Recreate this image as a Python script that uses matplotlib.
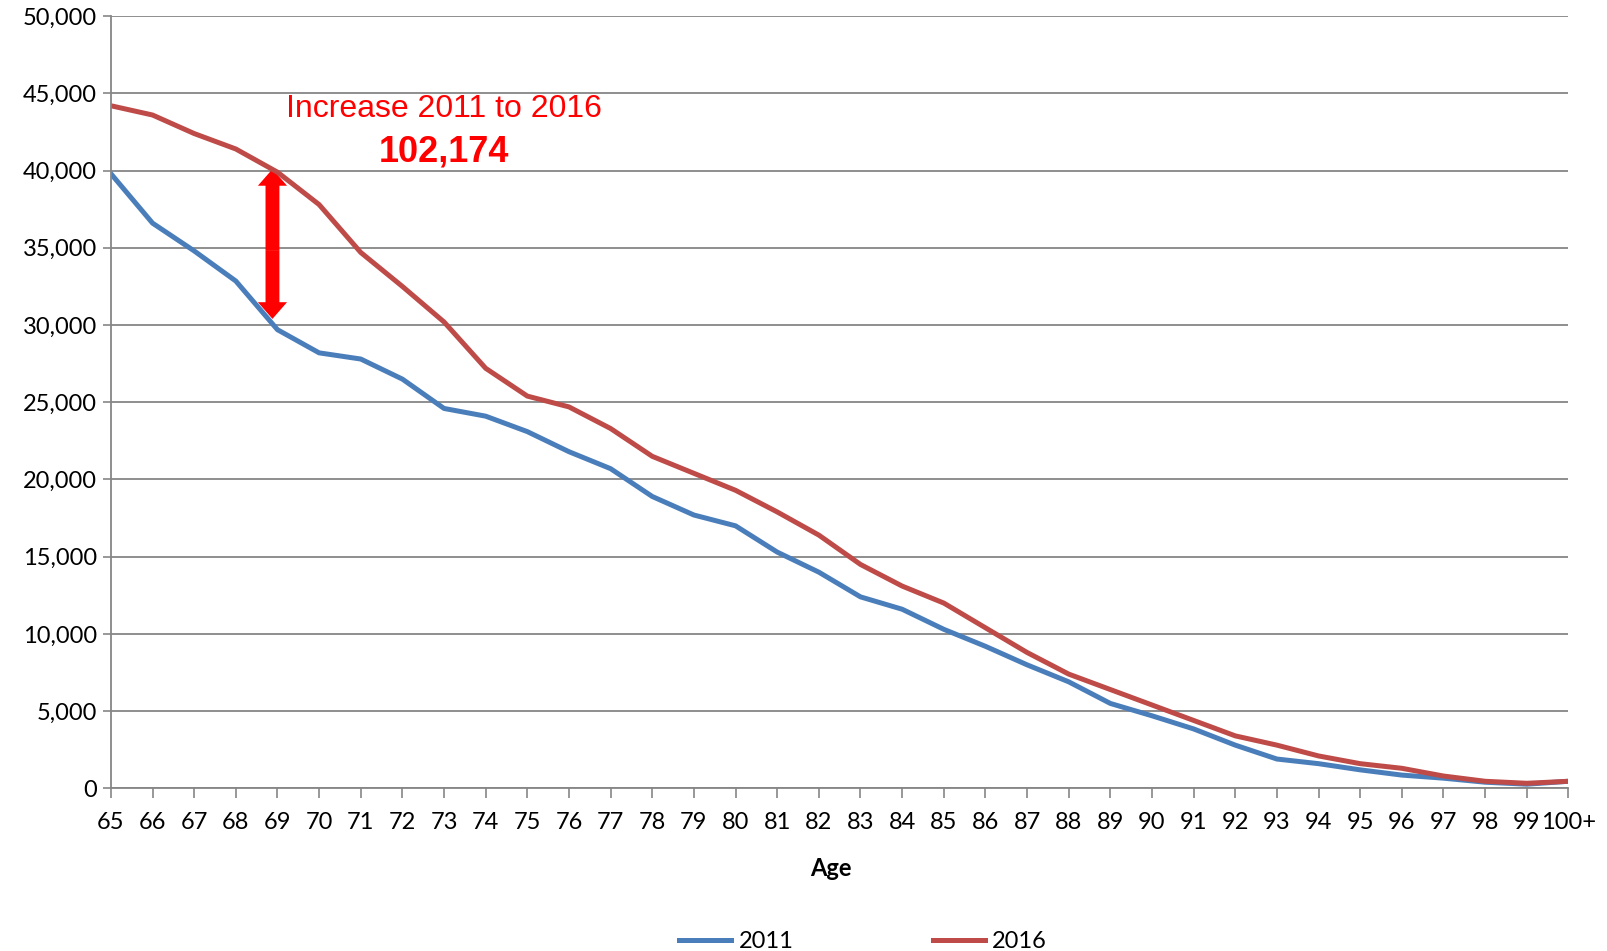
import matplotlib.pyplot as plt
from matplotlib.patches import FancyArrowPatch
import numpy as np

plt.rcParams['font.family'] = ['Lato', 'DejaVu Sans']

ages = [str(a) for a in range(65, 100)] + ['100+']
pop_2011 = [39800, 36600, 34800, 32850, 29700, 28200, 27800, 26500, 24600, 24100,
            23100, 21800, 20700, 18900, 17700, 17000, 15300, 14000, 12400, 11600,
            10300, 9200, 8000, 6900, 5500, 4700, 3850, 2800, 1900, 1600,
            1200, 860, 660, 400, 270, 460]
pop_2016 = [44200, 43600, 42400, 41400, 39900, 37800, 34700, 32500, 30200, 27200,
            25400, 24700, 23300, 21500, 20400, 19300, 17900, 16400, 14500, 13100,
            12000, 10400, 8800, 7400, 6400, 5400, 4400, 3400, 2800, 2100,
            1600, 1300, 800, 460, 330, 460]
increase_label = '102,174'

fig = plt.figure(figsize=(16.07, 9.51), dpi=100)
ax = fig.add_axes([0.069, 0.171, 0.907, 0.812])

x = np.arange(len(ages))
ax.plot(x, pop_2011, color='#4A7EBB', lw=3.6, label='2011', solid_joinstyle='round')
ax.plot(x, pop_2016, color='#BE4B48', lw=3.6, label='2016', solid_joinstyle='round')

ax.set_xlim(0, len(ages) - 1)
ax.set_ylim(0, 50000)
ax.set_xticks(x)
ax.set_xticklabels(ages)
ax.set_yticks(np.arange(0, 50001, 5000))
ax.set_yticklabels([f'{v:,}' for v in range(0, 50001, 5000)])
ax.tick_params(axis='both', labelsize=17, colors='#868686', labelcolor='black',
               direction='out', width=1.2)
ax.tick_params(axis='x', length=7, pad=10)
ax.tick_params(axis='y', length=6, pad=4)

ax.grid(axis='y', color='#868686', lw=1.3)
ax.set_axisbelow(True)
for s in ['top', 'right']:
    ax.spines[s].set_visible(False)
for s in ['left', 'bottom']:
    ax.spines[s].set_color('#868686')
    ax.spines[s].set_linewidth(1.3)

fig.text(0.517, 0.087, 'Age', ha='center', va='center', fontsize=17, fontweight='bold')

# annotation: arrow between the two series at age 69
i = 4
xa = i - 0.12
mid = (pop_2011[i] + pop_2016[i]) / 2
for end in (pop_2016[i] + 200, pop_2011[i] + 700):
    ax.add_patch(FancyArrowPatch((xa, mid), (xa, end),
                                 arrowstyle='simple,head_length=0.6,head_width=1.05,tail_width=0.5',
                                 mutation_scale=20, color='red', lw=0,
                                 shrinkA=0, shrinkB=0))

ax.text(8.0, 44000, 'Increase 2011 to 2016', color='red', fontsize=23,
        ha='center', va='center', family='Liberation Sans')
ax.text(8.0, 41200, increase_label, color='red', fontsize=26, fontweight='bold',
        ha='center', va='center', family='Liberation Sans')

fig.legend(loc='center', bbox_to_anchor=(0.537, 0.010), ncol=2, frameon=False,
           fontsize=17, handlelength=2.2, handletextpad=0.3, columnspacing=5.9)

fig.savefig('out.png', dpi=100)
